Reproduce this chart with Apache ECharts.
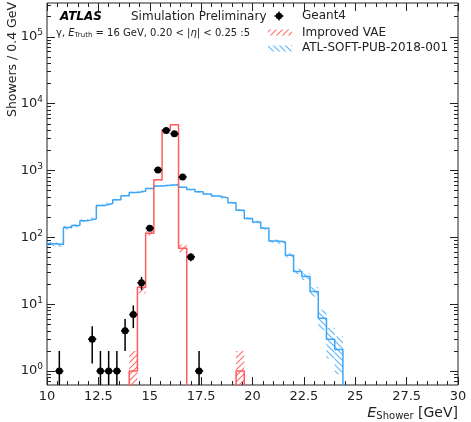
<!DOCTYPE html>
<html><head><meta charset="utf-8">
<script src="https://cdn.jsdelivr.net/npm/echarts@6/dist/echarts.min.js"></script>
<style>html,body{margin:0;padding:0;background:#fff}#c{width:471px;height:422px}</style>
</head><body><div id="c"></div>
<script>
// ---- data ----
const binWidth = 0.4;
const xTickLabels = [10, 12.5, 15, 17.5, 20, 22.5, 25, 27.5, 30];
const yMajorTicks = [1, 10, 100, 1000, 10000, 100000];

const geantX   = [10.6, 12.2, 12.6, 13.0, 13.4, 13.8, 14.2, 14.6, 15.0, 15.4, 15.8, 16.2, 16.6, 17.0, 17.4];
const geantY   = [1, 3, 1, 1, 1, 4, 7, 21, 137, 1020, 3960, 3540, 800, 51, 1];
const geantErr = [1, 1.7, 1, 1, 1, 2, 2.6, 4.6, 11.7, 32, 63, 59, 28, 7.1, 1];

const vaeX   = [13.8, 14.2, 14.6, 15.0, 15.4, 15.8, 16.2, 16.6, 17.0, 17.4, 17.8, 18.2, 18.6, 19.0, 19.4, 19.8];
const vaeY   = [0, 1, 18, 115, 725, 4060, 4830, 69, 0, 0, 0, 0, 0, 0, 1, 0];
const vaeErr = [0, 1, 3.5, 8, 25, 60, 65, 9, 0, 0, 0, 0, 0, 0, 1, 0];

const blueX = [10.2, 10.6, 11.0, 11.4, 11.8, 12.2, 12.6, 13.0, 13.4, 13.8, 14.2, 14.6, 15.0, 15.4, 15.8, 16.2, 16.6, 17.0,
               17.4, 17.8, 18.2, 18.6, 19.0, 19.4, 19.8, 20.2, 20.6, 21.0, 21.4, 21.8, 22.2, 22.6, 23.0, 23.4, 23.8, 24.2];
const blueY = [80, 78, 140, 150, 178, 190, 300, 320, 365, 420, 470, 490, 540, 585, 600, 610, 560, 520,
               480, 445, 415, 390, 330, 255, 192, 170, 137, 88, 85, 54, 31, 26, 15.5, 6.2, 3.0, 2.1];
const blueErr = [6, 6, 8, 8, 9, 9, 11, 11, 12, 12, 13, 13, 14, 14, 15, 15, 14, 14,
                 13, 13, 12, 12, 11, 10, 9, 8, 7, 5, 5, 4, 3, 3, 2.5, 2.1, 1.45, 1.2];

// ---- helpers ----
const Y_MIN = 0.62, Y_MAX = 3.2e5, FLOOR = 1e-3;
const RED = '#ff5c5c', RED_H = '#ff6a6a', BLUE = '#3fa6f6', BLUE_H = '#58b6ff', AX = '#222';

function hatch(color, dir) {
  const s = 6, c = document.createElement('canvas');
  c.width = s; c.height = s;
  const g = c.getContext('2d');
  g.strokeStyle = color; g.lineWidth = 1.1;
  g.beginPath();
  if (dir > 0) {
    g.moveTo(0, s); g.lineTo(s, 0);
    g.moveTo(-1, 1); g.lineTo(1, -1);
    g.moveTo(s - 1, s + 1); g.lineTo(s + 1, s - 1);
  } else {
    g.moveTo(0, 0); g.lineTo(s, s);
    g.moveTo(-1, s - 1); g.lineTo(1, s + 1);
    g.moveTo(s - 1, -1); g.lineTo(s + 1, 1);
  }
  g.stroke();
  return c;
}
const redPat = { image: hatch(RED_H, 1), repeat: 'repeat' };
const bluePat = { image: hatch(BLUE_H, -1), repeat: 'repeat' };

function stepData(xs, ys) {
  const d = xs.map((x, i) => [x - binWidth / 2, ys[i] > 0 ? ys[i] : FLOOR]);
  d.push([xs[xs.length - 1] + binWidth / 2, FLOOR]);
  return d;
}
function bandData(xs, ys, es) { return xs.map((x, i) => [x, ys[i], es[i]]); }

function bandRender(pat) {
  return function (params, api) {
    const x = api.value(0), v = api.value(1), e = api.value(2);
    if (!(e > 0)) return;
    const lo = Math.max(v - e, FLOOR), hi = v + e;
    const p1 = api.coord([x - binWidth / 2, hi]);
    const p2 = api.coord([x + binWidth / 2, lo]);
    const cs = params.coordSys;
    const shape = echarts.graphic.clipRectByRect(
      { x: p1[0], y: p1[1], width: p2[0] - p1[0], height: p2[1] - p1[1] },
      { x: cs.x, y: cs.y, width: cs.width, height: cs.height });
    if (!shape) return;
    return { type: 'rect', shape: shape, style: { fill: pat } };
  };
}

const yMinorTicks = [];
for (let k = -1; k <= 5; k++) {
  for (let m = 2; m <= 9; m++) {
    const v = m * Math.pow(10, k);
    if (v > Y_MIN && v < Y_MAX) yMinorTicks.push(v);
  }
}

const yBase = { type: 'log', logBase: 10, min: Y_MIN, max: Y_MAX, axisLine: { show: false },
  splitLine: { show: false }, minorTick: { show: false }, minorSplitLine: { show: false } };
const tickLine = { color: AX, width: 1 };
const xBase = { type: 'value', min: 10, max: 30, interval: 2.5, axisLine: { show: false },
  splitLine: { show: false },
  axisTick: { show: true, inside: true, length: 8, lineStyle: tickLine },
  minorTick: { show: true, splitNumber: 5, length: 4, lineStyle: tickLine } };

const chart = echarts.init(document.getElementById('c'), null, { renderer: 'canvas' });
chart.setOption({
  animation: false,
  backgroundColor: '#fff',
  textStyle: { fontFamily: 'DejaVu Sans' },
  grid: { left: 47, right: 13, top: 3, bottom: 37, show: true, borderColor: AX, borderWidth: 1,
          backgroundColor: 'transparent', outerBoundsMode: 'none' },
  xAxis: [
    Object.assign({}, xBase, { position: 'bottom',
      axisLabel: { show: true, margin: 5, fontSize: 13, color: AX,
        formatter: v => (xTickLabels.indexOf(v) >= 0 ? String(v) : '') } }),
    Object.assign({}, xBase, { position: 'top', axisLabel: { show: false } })
  ],
  yAxis: [
    Object.assign({}, yBase, { position: 'left',
      axisTick: { show: true, inside: true, length: 8, customValues: yMajorTicks, lineStyle: tickLine },
      axisLabel: { show: true, customValues: yMajorTicks, margin: 4, color: AX,
        formatter: v => '{b|10}{s|' + Math.round(Math.log10(v)) + '}',
        rich: { b: { fontSize: 13, color: AX, fontFamily: 'DejaVu Sans' },
                s: { fontSize: 9, color: AX, fontFamily: 'DejaVu Sans', padding: [0, 0, 8, 0] } } } }),
    Object.assign({}, yBase, { position: 'left',
      axisTick: { show: true, inside: true, length: 4, customValues: yMinorTicks, lineStyle: tickLine },
      axisLabel: { show: false } }),
    Object.assign({}, yBase, { position: 'right',
      axisTick: { show: true, inside: true, length: 8, customValues: yMajorTicks, lineStyle: tickLine },
      axisLabel: { show: false } }),
    Object.assign({}, yBase, { position: 'right',
      axisTick: { show: true, inside: true, length: 4, customValues: yMinorTicks, lineStyle: tickLine },
      axisLabel: { show: false } })
  ],
  series: [
    { name: 'ATL-SOFT-PUB-2018-001 band', type: 'custom', xAxisIndex: 0, yAxisIndex: 0, z: 2,
      renderItem: bandRender(bluePat), encode: { x: 0, y: 1 }, data: bandData(blueX, blueY, blueErr) },
    { name: 'ATL-SOFT-PUB-2018-001', type: 'line', step: 'end', xAxisIndex: 0, yAxisIndex: 0, z: 3,
      symbol: 'none', clip: true, lineStyle: { color: BLUE, width: 1.5 }, data: stepData(blueX, blueY) },
    { name: 'Improved VAE band', type: 'custom', xAxisIndex: 0, yAxisIndex: 0, z: 4,
      renderItem: bandRender(redPat), encode: { x: 0, y: 1 }, data: bandData(vaeX, vaeY, vaeErr) },
    { name: 'Improved VAE', type: 'line', step: 'end', xAxisIndex: 0, yAxisIndex: 0, z: 5,
      symbol: 'none', clip: true, lineStyle: { color: RED, width: 1.5 }, data: stepData(vaeX, vaeY) },
    { name: 'Geant4', type: 'custom', xAxisIndex: 0, yAxisIndex: 0, z: 6,
      encode: { x: 0, y: 1 }, data: bandData(geantX, geantY, geantErr),
      renderItem: function (params, api) {
        const x = api.value(0), y = api.value(1), e = api.value(2);
        const cs = params.coordSys, bottom = cs.y + cs.height;
        const c = api.coord([x, y]);
        const top = api.coord([x, y + e])[1];
        let bot = (y - e) > 0 ? api.coord([x, y - e])[1] : bottom;
        bot = Math.min(bot, bottom);
        const l = api.coord([x - binWidth / 2, y])[0], r = api.coord([x + binWidth / 2, y])[0];
        return { type: 'group', children: [
          { type: 'line', shape: { x1: c[0], y1: top, x2: c[0], y2: bot }, style: { stroke: '#000', lineWidth: 1.5 } },
          { type: 'line', shape: { x1: l, y1: c[1], x2: r, y2: c[1] }, style: { stroke: '#000', lineWidth: 1.5 } },
          { type: 'circle', shape: { cx: c[0], cy: c[1], r: 3.5 }, style: { fill: '#000' } }
        ] };
      } }
  ],
  graphic: [
    { type: 'text', x: 12.5, y: 2, rotation: Math.PI / 2,
      style: { text: 'Showers / 0.4 GeV', font: '12.5px "DejaVu Sans"', fill: AX, align: 'right', verticalAlign: 'middle' } },
    { type: 'text', x: 458, y: 413,
      style: { text: '{i|E}{s|Shower} [GeV]', font: '14px "DejaVu Sans"', fill: AX, align: 'right', verticalAlign: 'middle',
        rich: { i: { fontStyle: 'italic', fontSize: 14.5, fill: AX, fontFamily: 'DejaVu Sans' },
                s: { fontSize: 10, fill: AX, fontFamily: 'DejaVu Sans', padding: [6, 0, 0, 0] } } } },
    { type: 'text', x: 60, y: 17,
      style: { text: 'ATLAS', font: 'italic bold 12px "DejaVu Sans"', fill: '#000', verticalAlign: 'middle' } },
    { type: 'text', x: 131, y: 17,
      style: { text: 'Simulation Preliminary', font: '12px "DejaVu Sans"', fill: AX, verticalAlign: 'middle' } },
    { type: 'text', x: 56, y: 33,
      style: { text: 'γ, {i|E}{s|Truth} = 16 GeV, 0.20 < |{i|η}| < 0.25 :5', font: '10px "DejaVu Sans"', fill: AX,
        verticalAlign: 'middle',
        rich: { i: { fontStyle: 'italic', fontSize: 10, fill: AX, fontFamily: 'DejaVu Sans' },
                s: { fontSize: 7, fill: AX, fontFamily: 'DejaVu Sans', padding: [4, 0, 0, 0] } } } },
    // legend
    { type: 'line', shape: { x1: 274.5, y1: 16, x2: 283.5, y2: 16 }, style: { stroke: '#000', lineWidth: 1.5 } },
    { type: 'line', shape: { x1: 279, y1: 11.5, x2: 279, y2: 20.5 }, style: { stroke: '#000', lineWidth: 1.5 } },
    { type: 'circle', shape: { cx: 279, cy: 16, r: 3.3 }, style: { fill: '#000' } },
    { type: 'text', x: 302, y: 16, style: { text: 'Geant4', font: '12px "DejaVu Sans"', fill: AX, verticalAlign: 'middle' } },
    { type: 'rect', shape: { x: 268, y: 29.5, width: 24, height: 6 }, style: { fill: redPat } },
    { type: 'text', x: 302, y: 32.5, style: { text: 'Improved VAE', font: '12px "DejaVu Sans"', fill: AX, verticalAlign: 'middle' } },
    { type: 'rect', shape: { x: 268, y: 45.5, width: 24, height: 6 }, style: { fill: bluePat } },
    { type: 'text', x: 302, y: 48, style: { text: 'ATL-SOFT-PUB-2018-001', font: '12px "DejaVu Sans"', fill: AX, verticalAlign: 'middle' } }
  ]
});
</script></body></html>
